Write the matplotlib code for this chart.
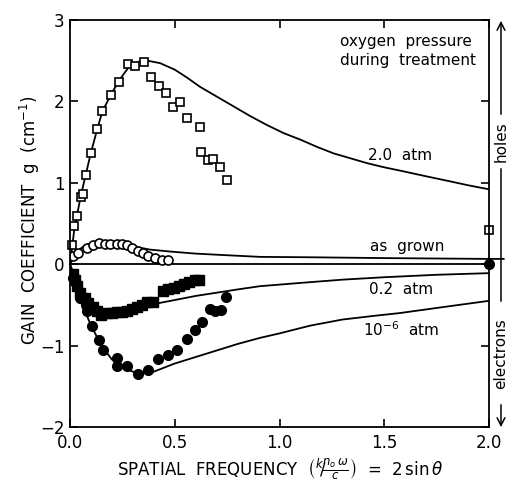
import numpy as np
import matplotlib
matplotlib.use("Agg")
import matplotlib.pyplot as plt

sq_open_x = [0.008, 0.019, 0.035, 0.051, 0.06, 0.076, 0.10, 0.13, 0.154, 0.194, 0.235, 0.275,
             0.312, 0.353, 0.388, 0.423, 0.458, 0.493, 0.525, 0.557, 0.622, 0.627, 0.657, 0.684,
             0.716, 0.748, 2.0]
sq_open_y = [0.23, 0.47, 0.59, 0.82, 0.86, 1.09, 1.36, 1.66, 1.88, 2.08, 2.24, 2.46,
             2.44, 2.49, 2.30, 2.19, 2.10, 1.93, 1.99, 1.79, 1.69, 1.38, 1.28, 1.29,
             1.20, 1.03, 0.42]

circ_open_x = [0.013, 0.04, 0.08, 0.108, 0.14, 0.167, 0.19, 0.223, 0.247, 0.27, 0.295,
               0.326, 0.35, 0.374, 0.406, 0.437, 0.469]
circ_open_y = [0.10, 0.14, 0.20, 0.23, 0.26, 0.25, 0.25, 0.25, 0.25, 0.23, 0.20,
               0.16, 0.14, 0.10, 0.08, 0.055, 0.05]

sq_fill_x = [0.015, 0.022, 0.032, 0.048, 0.072, 0.087, 0.111, 0.127, 0.15, 0.175, 0.199,
             0.223, 0.247, 0.27, 0.294, 0.318, 0.342, 0.369, 0.397,
             0.445, 0.47, 0.495, 0.52, 0.545, 0.57, 0.595, 0.615]
sq_fill_y = [-0.12, -0.20, -0.27, -0.35, -0.41, -0.48, -0.52, -0.58, -0.62, -0.60, -0.60,
             -0.59, -0.59, -0.57, -0.55, -0.53, -0.50, -0.46, -0.47,
             -0.33, -0.31, -0.29, -0.27, -0.24, -0.22, -0.20, -0.19]

circ_fill_x = [0.016, 0.032, 0.048, 0.076, 0.08, 0.103, 0.14, 0.159, 0.223, 0.226, 0.27,
               0.326, 0.374, 0.421, 0.469, 0.512, 0.557, 0.597, 0.632, 0.668, 0.692,
               0.719, 0.745, 2.0]
circ_fill_y = [-0.17, -0.27, -0.41, -0.50, -0.58, -0.76, -0.93, -1.05, -1.15, -1.245, -1.25,
               -1.35, -1.30, -1.17, -1.12, -1.05, -0.92, -0.81, -0.71, -0.55, -0.57,
               -0.56, -0.40, 0.0]

# theory curves
c20_x = [0.0, 0.01, 0.02, 0.035, 0.05, 0.075, 0.10, 0.13, 0.155, 0.195, 0.235, 0.28, 0.33,
         0.37, 0.43, 0.5, 0.56, 0.62, 0.70, 0.78, 0.86, 0.94, 1.02, 1.1, 1.18, 1.26, 1.34,
         1.42, 1.5, 1.575, 1.7, 1.81, 1.9, 2.0]
c20_y = [0.0, 0.2, 0.42, 0.62, 0.82, 1.1, 1.37, 1.66, 1.88, 2.08, 2.26, 2.42, 2.49,
         2.50, 2.47, 2.39, 2.29, 2.18, 2.06, 1.94, 1.82, 1.71, 1.61, 1.53, 1.44, 1.36, 1.30,
         1.24, 1.19, 1.15, 1.08, 1.02, 0.97, 0.92]

cag_x = [0.0, 0.03, 0.07, 0.12, 0.18, 0.25, 0.32, 0.38, 0.48, 0.6, 0.75, 0.907, 1.15, 1.5, 2.0, 2.07]
cag_y = [0.0, 0.15, 0.23, 0.27, 0.28, 0.26, 0.21, 0.18, 0.155, 0.13, 0.11, 0.09, 0.085, 0.075, 0.065, 0.065]

c02_x = [0.0, 0.03, 0.06, 0.1, 0.15, 0.2, 0.25, 0.3, 0.38, 0.5, 0.6, 0.7, 0.8, 0.907, 1.1,
         1.3, 1.5, 1.75, 2.0]
c02_y = [0.0, -0.2, -0.38, -0.5, -0.57, -0.59, -0.58, -0.56, -0.50, -0.44, -0.39, -0.35,
         -0.31, -0.27, -0.23, -0.19, -0.16, -0.13, -0.11]

c6_x = [0.0, 0.05, 0.1, 0.15, 0.2, 0.25, 0.3, 0.36, 0.4, 0.5, 0.6, 0.7, 0.8, 0.907, 1.0,
        1.146, 1.3, 1.45, 1.575, 1.8, 2.0]
c6_y = [0.0, -0.45, -0.75, -1.0, -1.17, -1.27, -1.32, -1.34, -1.32, -1.22, -1.14, -1.06,
        -0.98, -0.905, -0.85, -0.755, -0.68, -0.635, -0.60, -0.52, -0.45]

fig = plt.figure(figsize=(5.11, 4.98), dpi=100)
ax = fig.add_axes([70/511, 1 - 427/498, (489 - 70)/511, (427 - 20)/498])

lw = 1.3
ax.plot(c20_x, c20_y, color='black', lw=lw)
ax.plot(cag_x, cag_y, color='black', lw=lw, clip_on=False)
ax.plot(c02_x, c02_y, color='black', lw=lw)
ax.plot(c6_x, c6_y, color='black', lw=lw)
ax.axhline(0, color='black', lw=lw)

ax.plot(sq_open_x, sq_open_y, 's', ms=6, mfc='white', mec='black', mew=1.2, clip_on=False)
ax.plot(circ_open_x, circ_open_y, 'o', ms=6.5, mfc='white', mec='black', mew=1.2)
ax.plot(sq_fill_x, sq_fill_y, 's', ms=6.5, color='black')
ax.plot(circ_fill_x, circ_fill_y, 'o', ms=7, color='black', clip_on=False)

ax.set_xlim(0, 2.0)
ax.set_ylim(-2, 3)
ax.set_xticks([0.0, 0.5, 1.0, 1.5, 2.0])
ax.set_xticklabels(['0.0', '0.5', '1.0', '1.5', '2.0'])
ax.set_yticks([-2, -1, 0, 1, 2, 3])
ax.tick_params(direction='in', length=6, width=1.2, top=True, right=True, labelsize=12)
ax.tick_params(axis='x', pad=5)
ax.tick_params(axis='y', pad=4)
for s in ax.spines.values():
    s.set_linewidth(1.3)

fs = 11
ax.text(1.29, 2.62, 'oxygen  pressure\nduring  treatment', fontsize=fs, ha='left', va='center',
        linespacing=1.3)
ax.text(1.575, 1.34, '2.0  atm', fontsize=fs, ha='center', va='center')
ax.text(1.61, 0.22, 'as  grown', fontsize=fs, ha='center', va='center')
ax.text(1.58, -0.31, '0.2  atm', fontsize=fs, ha='center', va='center')
ax.text(1.58, -0.80, r'10$^{-6}$  atm', fontsize=fs, ha='center', va='center')

fig.text(30/511, 1 - 220/498, r'GAIN  COEFFICIENT  g  (cm$^{-1}$)', rotation=90,
         fontsize=12, ha='center', va='center')
fig.text(280/511, 1 - 469/498,
         r'SPATIAL  FREQUENCY  $\left(^{k}\!/\!\frac{n_{o}\,\omega}{c}\right)$  =  2$\,\sin\theta$',
         fontsize=12, ha='center', va='center')

# holes / electrons arrow on the right
xr = 501/511
fig.text(xr, 1 - 142/498, 'holes', rotation=90, fontsize=fs, ha='center', va='center')
fig.text(xr, 1 - 354/498, 'electrons', rotation=90, fontsize=fs, ha='center', va='center')
ax.annotate('', xy=(xr, 1 - 18/498), xytext=(xr, 1 - 117/498), xycoords='figure fraction',
            arrowprops=dict(arrowstyle='->', lw=1.1, color='black', mutation_scale=14))
ax.annotate('', xy=(xr, 1 - 166/498), xytext=(xr, 1 - 304/498), xycoords='figure fraction',
            arrowprops=dict(arrowstyle='-', lw=1.1, color='black'))
ax.annotate('', xy=(xr, 1 - 430/498), xytext=(xr, 1 - 402/498), xycoords='figure fraction',
            arrowprops=dict(arrowstyle='->', lw=1.1, color='black', mutation_scale=14))

fig.savefig('out.png', dpi=100)
